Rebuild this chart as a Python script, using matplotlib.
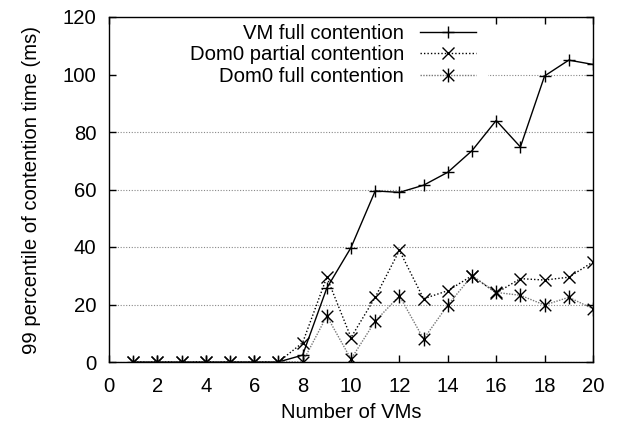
import matplotlib
matplotlib.use("Agg")
import matplotlib.pyplot as plt
from matplotlib.path import Path
from matplotlib.patches import Rectangle

plt.rcParams['font.family'] = ['Liberation Sans', 'DejaVu Sans']

# number of VMs
vms = list(range(1, 21))
# 99th percentile of contention time (ms)
vm_full = [0, 0, 0, 0, 0, 0, 0, 2.4, 25.7, 39.8, 59.5, 59.0, 61.5, 66.0, 73.5, 84.0, 74.8, 99.5, 105.0, 103.5]
dom0_partial = [0, 0, 0, 0, 0, 0, 0, 6.7, 29.5, 8.5, 22.5, 38.8, 22.0, 24.8, 30.0, 24.0, 29.0, 28.5, 29.5, 34.8]
dom0_full = [0, 0, 0, 0, 0, 0, 0, 0, 16.0, 1.0, 14.2, 23.0, 8.0, 19.8, 30.0, 24.2, 23.2, 19.8, 22.5, 18.5]

# asterisk marker: an x with a vertical bar through it
star = Path([(-1, -1), (1, 1), (-1, 1), (1, -1), (0, -1.2), (0, 1.2)],
            [Path.MOVETO, Path.LINETO, Path.MOVETO, Path.LINETO, Path.MOVETO, Path.LINETO])

fs = 14.6

fig = plt.figure(figsize=(6.19, 4.28), dpi=100)
ax = fig.add_axes([109 / 619, 1 - 362 / 428, (593 - 109) / 619, (362 - 17) / 428])

ax.plot(vms, vm_full, color='black', linewidth=1.0, marker='+', markersize=8.5,
        markeredgewidth=1.0, label='VM full contention')
ax.plot(vms, dom0_partial, color='black', linewidth=1.0, linestyle=(0, (1, 1.5)),
        marker='x', markersize=8.5, markeredgewidth=1.0, label='Dom0 partial contention')
ax.plot(vms, dom0_full, color='#777777', linewidth=1.0, linestyle=(0, (1, 1)),
        marker=star, markersize=10, markeredgewidth=1.0, markeredgecolor='black',
        markerfacecolor='none', label='Dom0 full contention')

ax.set_xlim(0, 20)
ax.set_ylim(0, 120)
ax.set_xticks(range(0, 21, 2))
ax.set_yticks(range(0, 121, 20))
ax.tick_params(direction='in', top=True, right=True, length=5, width=1.0,
               labelsize=fs)
ax.tick_params(axis='x', pad=11)
ax.tick_params(axis='y', pad=9)
ax.yaxis.grid(True, color='#888888', linestyle=(0, (1, 1.5)), linewidth=0.8)
ax.set_axisbelow(True)
for s in ax.spines.values():
    s.set_linewidth(1.0)

# key area is blanked out behind the legend
ax.add_patch(Rectangle((8 / 484, 277 / 345), 371 / 484, 68 / 345, transform=ax.transAxes,
                       facecolor='white', edgecolor='none', zorder=1.5))

ax.set_xlabel('Number of VMs', fontsize=fs, labelpad=5)
ax.set_ylabel('99 percentile of contention time (ms)', fontsize=fs, labelpad=16)

leg = ax.legend(loc='upper right', bbox_to_anchor=(478 / 619, 1 - 22 / 428),
                bbox_transform=fig.transFigure, markerfirst=False, fontsize=fs,
                frameon=False, handlelength=2.75, handletextpad=0.8,
                labelspacing=0.12, borderpad=0.1, borderaxespad=0, numpoints=1)

fig.savefig('out.png', dpi=100)
